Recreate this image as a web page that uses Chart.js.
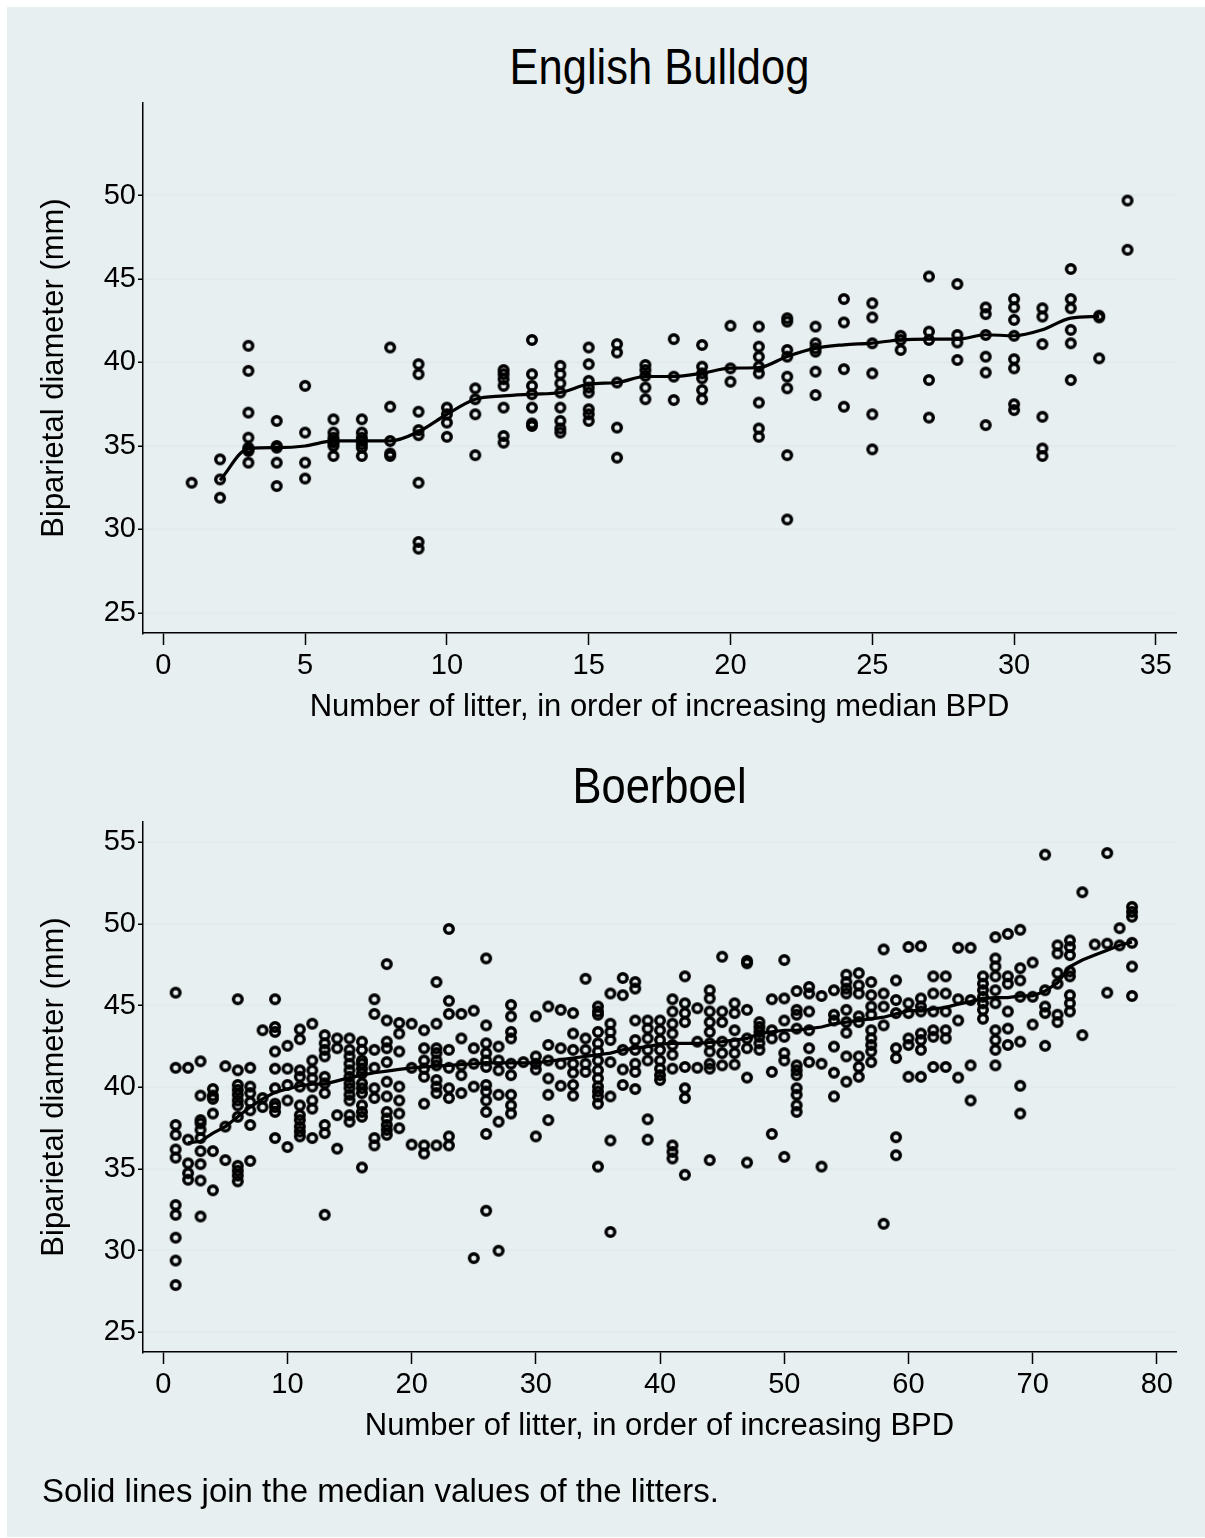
<!DOCTYPE html>
<html>
<head>
<meta charset="utf-8">
<title>BPD by litter</title>
<script src="https://cdn.jsdelivr.net/npm/chart.js@4.4.1/dist/chart.umd.min.js"></script>
<style>
  body { margin: 0; background: #fff; }
  #page { position: relative; width: 1205px; height: 1538px; overflow: hidden; background: #fff; }
  #panel { position: absolute; left: 7px; top: 7px; width: 1198px; height: 1530px; background: #e8eff1; }
  canvas { position: absolute; left: 0; }
  .ptitle {
    position: absolute; left: 143px; width: 1033px; text-align: center;
    font-family: "Liberation Sans", Arial, sans-serif; font-size: 50px; line-height: 50px;
    color: #000; transform: scaleX(0.87); transform-origin: 50% 50%; white-space: nowrap;
  }
  #note {
    position: absolute; left: 42px; top: 1474px;
    font-family: "Liberation Sans", Arial, sans-serif; font-size: 33px; line-height: 33px;
    color: #000; white-space: nowrap;
  }
</style>
</head>
<body>
<div id="page">
  <div id="panel"></div>
  <div class="ptitle" style="top: 42px;">English Bulldog</div>
  <canvas id="bulldog" width="1205" height="760" style="top: 0;"></canvas>
  <div class="ptitle" style="top: 761px;">Boerboel</div>
  <canvas id="boerboel" width="1205" height="778" style="top: 760px;"></canvas>
  <div id="note">Solid lines join the median values of the litters.</div>
</div>
<script>
// biparietal diameter (mm) per litter, litter n is entry n-1
const bulldogBpd = [
  [32.8],
  [34.2, 33.0, 31.9],
  [41.0, 39.5, 37.0, 35.5, 34.9, 34.8, 34.7, 34.0],
  [36.5, 35.0, 34.9, 34.0, 32.6],
  [38.6, 35.8, 34.0, 33.05],
  [36.6, 35.8, 35.5, 35.3, 35.2, 35.0, 34.4],
  [36.6, 35.8, 35.5, 35.3, 35.1, 34.9, 34.4],
  [40.9, 37.35, 35.3, 34.55, 34.4],
  [39.9, 39.3, 37.05, 35.95, 35.65, 32.8, 29.25, 28.85],
  [37.3, 36.9, 36.4, 35.55],
  [38.45, 37.8, 36.9, 34.45],
  [39.55, 39.3, 39.0, 38.6, 37.3, 35.6, 35.2],
  [41.35, 39.3, 38.6, 38.1, 37.3, 36.35, 36.2],
  [39.8, 39.3, 38.75, 38.2, 37.3, 36.5, 36.05, 35.8],
  [40.9, 39.9, 38.9, 38.5, 38.2, 37.2, 36.9, 36.5],
  [41.1, 40.6, 38.8, 36.1, 34.3],
  [39.85, 39.55, 39.2, 38.5, 37.8],
  [41.4, 39.15, 37.75],
  [41.05, 39.75, 39.35, 39.05, 38.35, 37.8],
  [42.2, 39.65, 38.85],
  [42.15, 40.95, 40.35, 39.75, 39.35, 37.6, 36.05, 35.55],
  [42.65, 42.45, 40.75, 40.35, 39.15, 38.45, 34.45, 30.6],
  [42.15, 41.15, 40.85, 40.65, 39.45, 38.05],
  [43.8, 42.4, 39.6, 37.35],
  [43.55, 42.7, 41.15, 39.35, 36.9, 34.8],
  [41.6, 41.35, 40.75],
  [45.15, 41.85, 41.35, 38.95, 36.7],
  [44.7, 41.65, 41.2, 40.15],
  [43.3, 42.9, 41.65, 40.35, 39.4, 36.25],
  [43.8, 43.3, 42.55, 41.6, 40.2, 39.65, 37.5, 37.15],
  [43.25, 42.75, 41.1, 36.75, 34.85, 34.4],
  [45.6, 43.8, 43.25, 41.95, 41.15, 38.95],
  [42.8, 42.7, 40.25],
  [49.7, 46.75]
];
const bulldogMedian = [
  null, 32.95, 34.84, 34.9, 35.0, 35.3, 35.3, 35.3, 35.86, 36.9,
  37.8, 38.0, 38.1, 38.2, 38.7, 38.8, 39.16, 39.16, 39.36, 39.66,
  39.7, 40.36, 40.86, 41.06, 41.16, 41.36, 41.4, 41.4, 41.66, 41.6,
  41.96, 42.66, 42.76, null
];
const bulldogXTicks = [0, 5, 10, 15, 20, 25, 30, 35];
const bulldogYTicks = [25, 30, 35, 40, 45, 50];

const boerboelBpd = [
  [45.8, 41.2, 37.7, 37.1, 36.2, 35.7, 32.8, 32.2, 30.8, 29.4, 27.9],
  [41.2, 36.8, 35.35, 34.75, 34.35],
  [41.6, 39.5, 38.0, 37.8, 37.4, 36.9, 36.1, 35.3, 34.3, 32.1],
  [39.9, 39.5, 39.3, 38.4, 36.1, 33.7],
  [41.3, 37.6, 35.55],
  [45.4, 41.05, 40.15, 39.85, 39.55, 39.2, 38.9, 38.2, 35.2, 34.9, 34.6, 34.25],
  [41.2, 40.05, 39.65, 39.1, 38.6, 37.7, 35.5],
  [43.5, 39.35, 38.8],
  [45.4, 43.7, 43.4, 42.2, 41.15, 39.95, 39.0, 38.8, 38.5, 36.9],
  [42.55, 41.15, 40.15, 39.2, 36.35],
  [43.55, 42.95, 41.05, 40.65, 40.05, 38.9, 38.3, 38.0, 37.6, 37.3, 37.0],
  [43.9, 41.65, 41.05, 40.55, 40.05, 39.2, 38.7, 36.9],
  [43.2, 42.7, 42.3, 41.9, 40.65, 40.25, 39.65, 37.7, 37.2, 32.2],
  [43.0, 42.4, 38.3, 36.25],
  [43.0, 42.3, 41.9, 41.45, 41.05, 40.65, 40.25, 39.95, 39.55, 39.2, 38.3, 37.9],
  [42.8, 42.3, 41.65, 41.45, 41.15, 40.85, 40.25, 39.95, 39.65, 38.9, 38.5, 38.2, 35.1],
  [45.4, 44.5, 42.3, 41.2, 39.95, 39.35, 36.9, 36.45],
  [47.55, 44.1, 42.8, 42.4, 41.55, 40.35, 39.45, 38.5, 38.1, 37.7, 37.4, 37.1],
  [43.95, 43.3, 42.2, 40.05, 39.2, 38.4, 37.5],
  [43.9, 41.2, 36.5],
  [43.5, 42.4, 41.65, 41.15, 40.65, 39.0, 36.45, 35.95],
  [46.45, 43.9, 42.4, 42.1, 41.65, 41.35, 40.45, 40.05, 39.65, 36.45],
  [49.7, 45.3, 44.5, 42.3, 41.2, 39.95, 39.35, 37.0, 36.45],
  [44.5, 43.0, 41.35, 40.75, 39.65],
  [44.7, 42.4, 41.45, 40.05, 29.55],
  [47.9, 43.8, 42.7, 42.1, 41.65, 41.25, 40.15, 39.75, 39.2, 38.5, 37.15, 32.45],
  [42.5, 41.65, 41.05, 39.55, 37.9, 30.0],
  [45.05, 44.35, 43.4, 43.0, 41.45, 40.75, 39.55, 38.9, 38.4],
  [41.55],
  [44.35, 41.9, 41.45, 41.1, 37.0],
  [44.95, 42.6, 41.65, 40.55, 39.55, 38.0],
  [44.75, 42.4, 41.45, 40.1],
  [44.55, 43.3, 42.3, 41.45, 40.9, 40.15, 39.5],
  [46.65, 43.0, 42.3, 41.45, 40.95],
  [44.95, 44.65, 44.45, 43.4, 42.7, 42.2, 41.65, 41.05, 40.55, 40.05, 39.75, 39.45, 39.0, 35.15],
  [45.75, 43.9, 43.4, 42.9, 41.55, 39.45, 36.75, 31.15],
  [46.7, 45.65, 42.3, 41.1, 40.15],
  [46.45, 46.05, 44.1, 42.9, 42.3, 41.45, 40.95, 39.9],
  [44.1, 43.6, 43.0, 42.3, 41.65, 38.05, 36.8],
  [44.1, 43.5, 42.9, 42.3, 41.65, 41.15, 40.75, 40.45],
  [45.4, 44.65, 43.9, 43.3, 42.6, 42.0, 41.15, 36.45, 36.05, 35.65],
  [46.8, 45.15, 44.55, 44.0, 41.25, 39.95, 39.35, 34.65],
  [44.85, 42.8, 41.2],
  [45.95, 45.45, 44.65, 44.0, 43.4, 42.7, 42.2, 41.45, 41.15, 35.55],
  [48.0, 44.65, 44.0, 42.8, 42.1, 41.35],
  [45.15, 44.55, 43.5, 42.7, 42.1, 41.4],
  [47.75, 47.6, 44.75, 43.0, 42.4, 40.6, 35.4],
  [44.0, 43.7, 43.4, 43.1, 42.7, 42.3],
  [45.4, 43.5, 43.0, 40.95, 37.15],
  [47.8, 45.45, 44.1, 43.1, 42.1, 41.65, 35.75],
  [45.9, 44.75, 44.45, 43.6, 41.35, 41.05, 40.75, 39.95, 39.55, 38.9, 38.5],
  [46.15, 45.75, 44.65, 43.5, 42.4, 41.55],
  [45.6, 41.45, 35.15],
  [45.95, 44.45, 44.1, 42.5, 40.9, 39.45],
  [46.9, 46.45, 46.05, 45.75, 44.75, 44.0, 43.35, 41.9, 40.35],
  [47.0, 46.25, 45.75, 44.35, 44.0, 41.9, 41.25, 40.65],
  [46.45, 45.65, 44.95, 44.45, 43.5, 43.0, 42.6, 42.2, 41.55],
  [48.45, 45.75, 44.95, 43.8, 31.65],
  [46.55, 45.35, 44.55, 42.4, 41.8, 36.95, 35.85],
  [48.6, 45.15, 44.55, 43.0, 42.6, 40.65],
  [48.65, 45.45, 44.95, 44.65, 43.3, 42.9, 42.3, 40.65],
  [46.8, 45.75, 44.65, 43.5, 43.1, 41.25],
  [46.8, 45.75, 44.65, 43.5, 43.0, 41.25],
  [48.55, 45.4, 44.1, 40.6],
  [48.55, 45.35, 41.35, 39.2],
  [46.8, 46.35, 45.95, 45.55, 45.15, 44.75, 44.2],
  [49.2, 47.9, 47.4, 46.8, 45.95, 45.15, 43.5, 42.9, 42.3, 41.35],
  [49.4, 46.8, 46.35, 44.65, 43.6, 42.6],
  [49.65, 47.3, 46.55, 45.55, 42.8, 40.1, 38.4],
  [47.65, 45.55, 43.85],
  [54.25, 45.95, 44.95, 44.55, 42.55],
  [48.7, 48.2, 47.0, 46.35, 44.45, 44.0],
  [49.0, 48.6, 48.1, 47.1, 46.8, 45.65, 45.15, 44.65],
  [51.95, 43.2],
  [48.75],
  [54.35, 48.8, 45.8],
  [49.75, 48.7],
  [51.05, 50.75, 50.45, 48.85, 47.4, 45.6]
];
const boerboelMedian = [
  null, 36.6, 36.7, 37.2, 37.6, 38.2, 38.8, 39.3, 39.7, 39.9,
  40.1, 40.2, 40.2, 40.4, 40.6, 40.75, 40.9, 41.0, 41.1, 41.2,
  41.25, 41.3, 41.35, 41.4, 41.45, 41.5, 41.5, 41.5, 41.5, 41.5,
  41.6, 41.7, 41.8, 41.9, 42.0, 42.1, 42.3, 42.4, 42.5, 42.65,
  42.7, 42.7, 42.7, 42.75, 42.8, 42.9, 43.0, 43.3, 43.4, 43.5,
  43.5, 43.6, 43.7, 43.9, 44.0, 44.1, 44.2, 44.3, 44.5, 44.7,
  44.7, 44.8, 44.9, 45.1, 45.25, 45.45, 45.5, 45.5, 45.6, 45.6,
  45.9, 46.4, 47.4, 47.8, 48.1, 48.4, 48.7, 48.9
];
const boerboelXTicks = [0, 10, 20, 30, 40, 50, 60, 70, 80];
const boerboelYTicks = [25, 30, 35, 40, 45, 50, 55];

const FONT = '"Liberation Sans", Arial, sans-serif';
const GRID = '#e2ebed';

// hollow ring marker, heavier than the default circle outline
function ringMarker() {
  const c = document.createElement('canvas');
  c.width = 14;
  c.height = 14;
  const g = c.getContext('2d');
  g.strokeStyle = '#000';
  g.lineWidth = 3.4;
  g.beginPath();
  g.arc(7, 7, 4.3, 0, Math.PI * 2);
  g.stroke();
  return c;
}
const RING = ringMarker();

function fixedTicks(list) {
  return (axis) => { axis.ticks = list.map((v) => ({ value: v })); };
}

function litterChart(id, bpd, medians, cfg) {
  const points = [];
  bpd.forEach((vals, i) => vals.forEach((v) => points.push({ x: i + 1, y: v })));
  const medianLine = [];
  medians.forEach((m, i) => { if (m !== null) medianLine.push({ x: i + 1, y: m }); });

  return new Chart(document.getElementById(id), {
    type: 'scatter',
    data: {
      datasets: [
        {
          data: points,
          pointStyle: RING,
          pointRadius: 6,
          pointHoverRadius: 6,
        },
        {
          type: 'line',
          data: medianLine,
          borderColor: '#000',
          borderWidth: 3.2,
          pointRadius: 0,
          fill: false,
          tension: 0,
          cubicInterpolationMode: cfg.smooth ? 'monotone' : 'default',
        },
      ],
    },
    options: {
      responsive: false,
      animation: false,
      devicePixelRatio: 1,
      events: [],
      layout: { padding: cfg.padding },
      plugins: { legend: { display: false }, tooltip: { enabled: false } },
      scales: {
        x: {
          type: 'linear',
          min: cfg.xMin,
          max: cfg.xMax,
          afterBuildTicks: fixedTicks(cfg.xTicks),
          afterFit: (s) => { s.height = 93; },
          border: { color: '#000', width: 1.5 },
          grid: { drawOnChartArea: false, drawTicks: true, tickLength: 12, tickColor: '#000', tickWidth: 1.5 },
          ticks: { color: '#000', font: { family: FONT, size: 29 }, padding: 4, maxRotation: 0, autoSkip: false },
          title: { display: true, text: cfg.xTitle, color: '#000', font: { family: FONT, size: 31 }, padding: 0 },
        },
        y: {
          type: 'linear',
          min: cfg.yMin,
          max: cfg.yMax,
          afterBuildTicks: fixedTicks(cfg.yTicks),
          afterFit: (s) => { s.width = 107; },
          border: { color: '#000', width: 1.5 },
          grid: { color: GRID, lineWidth: 2.5, drawTicks: true, tickLength: 5, tickColor: '#000', tickWidth: 1.5 },
          ticks: { color: '#000', font: { family: FONT, size: 29 }, padding: 2, autoSkip: false },
          title: { display: true, text: 'Biparietal diameter (mm)', color: '#000', font: { family: FONT, size: 31 }, padding: 0 },
        },
      },
    },
  });
}

litterChart('bulldog', bulldogBpd, bulldogMedian, {
  xMin: -0.716, xMax: 35.71, yMin: 23.8, yMax: 55.54,
  xTicks: bulldogXTicks, yTicks: bulldogYTicks,
  xTitle: 'Number of litter, in order of increasing median BPD',
  padding: { left: 36, right: 29, top: 103, bottom: 34 },
  smooth: true,
});

litterChart('boerboel', boerboelBpd, boerboelMedian, {
  xMin: -1.63, xMax: 81.54, yMin: 23.8, yMax: 56.25,
  xTicks: boerboelXTicks, yTicks: boerboelYTicks,
  xTitle: 'Number of litter, in order of increasing BPD',
  padding: { left: 36, right: 29, top: 62, bottom: 93 },
  smooth: false,
});
</script>
</body>
</html>
